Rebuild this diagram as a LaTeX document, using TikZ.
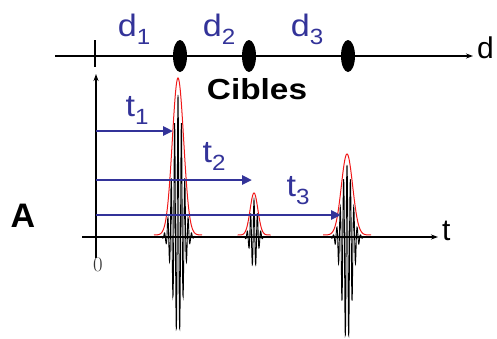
\documentclass[tikz,border=0pt]{standalone}
\usepackage{fontspec}
\setmainfont{Liberation Sans}
\usepackage{xcolor}
\usetikzlibrary{arrows.meta,positioning,shapes.geometric}

\definecolor{lblue}{RGB}{51,51,153}
\definecolor{ered}{RGB}{240,25,25}

% subscript of the blue labels
\newcommand{\idx}[1]{\raisebox{-8pt}{\fontsize{22}{22}\selectfont #1}}
% one echo: centre, envelope height, swing up, swing down, width
\newcommand{\echo}[5]{%
  \draw[osc] plot[domain={#1-2.2*#5}:{#1+2.2*#5}, samples=201]
    (\x, {237-exp(-((\x-#1)/(0.9*#5))^2)*(#3*max(cos(360*(\x-#1)/3.4),0)+#4*min(cos(360*(\x-#1)/3.4),0))});
  \draw[env] plot[domain={#1-3*#5}:{#1+3*#5}, samples=81]
    (\x, {235-#2*exp(-((\x-#1)/#5)^2)});
}

\begin{document}
\begin{tikzpicture}[x=1pt, y=-1pt,
      axis/.style={draw=black, line width=1.3pt},
      axarr/.style={axis, -{Stealth[length=7pt, width=5pt]}},
      tarr/.style={draw=lblue, line width=2.5pt, -{Stealth[length=10pt, width=9pt, inset=0pt]}},
      target/.style={ellipse, fill=black, minimum width=14pt, minimum height=32pt, inner sep=0pt},
      lbl/.style={text=lblue, font=\fontsize{31}{32}\selectfont, inner sep=0pt, xscale=1.1},
      axl/.style={font=\fontsize{30}{31}\selectfont, inner sep=0pt},
      osc/.style={draw=black, line width=0.9pt},
      env/.style={draw=ered, line width=1pt}]
    \useasboundingbox (0,0) rectangle (497,338);

    % distance axis with the targets
    \coordinate (dl) at (55,56);
    \coordinate (dr) at (473,56);
    \draw[axarr] (dl) -- (dr);
    \node[axl, anchor=base west] (dlab) at (477,58) {d};
    \coordinate (tk1) at (95,40);
    \coordinate (tk2) at (95,67);
    \draw[axis, line width=1.8pt] (tk1) -- (tk2);
    \node[target] (c1) at (180,56) {};
    \node[target] (c2) at (249,56) {};
    \node[target] (c3) at (348,56) {};
    \node[lbl, anchor=base] (d1) at (134,36) {d\idx{1}};
    \node[lbl, anchor=base] (d2) at (219,36) {d\idx{2}};
    \node[lbl, anchor=base] (d3) at (307,36) {d\idx{3}};
    \node[font=\bfseries\fontsize{29}{30}\selectfont, xscale=1.15, inner sep=0pt,
          anchor=base] (cib) at (257,99) {Cibles};

    % echoes
    \echo{178}{157}{142}{98}{8}
    \echo{254}{42}{37}{31}{5.5}
    \echo{347}{81}{72}{105}{8}

    % amplitude / time axes
    \coordinate (vb) at (96,258);
    \coordinate (vt) at (96,74);
    \draw[axarr] (vb) -- (vt);
    \coordinate (tl) at (82,237);
    \coordinate (tr) at (438,237);
    \draw[axarr] (tl) -- (tr);
    \node[axl, anchor=base west] (tlab) at (442,240) {t};
    \node[font=\bfseries\fontsize{34}{35}\selectfont, inner sep=0pt, anchor=base] (alab) at (23,227) {A};
    \node[font=\fontsize{21}{21}\selectfont, text=black!80, inner sep=0pt] (zero) at (98,265) {$0$};

    % travel times
    \coordinate (s1) at (96,131);
    \coordinate (e1) at (173,131);
    \coordinate (s2) at (96,180);
    \coordinate (e2) at (252,180);
    \coordinate (s3) at (96,215);
    \coordinate (e3) at (341,215);
    \draw[tarr] (s1) -- (e1);
    \draw[tarr] (s2) -- (e2);
    \draw[tarr] (s3) -- (e3);
    \node[lbl, anchor=base] (t1) at (137,116) {t\idx{1}};
    \node[lbl, anchor=base] (t2) at (214,162) {t\idx{2}};
    \node[lbl, anchor=base] (t3) at (298,196) {t\idx{3}};
  \end{tikzpicture}
\end{document}
